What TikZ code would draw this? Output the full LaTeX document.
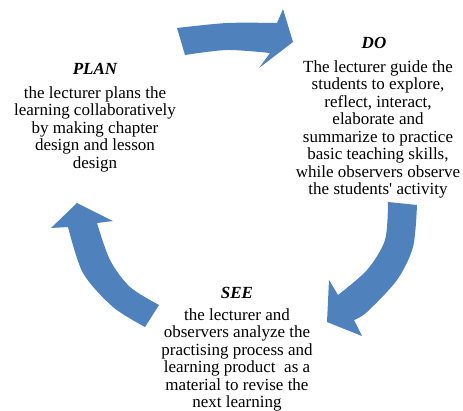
\documentclass[tikz,border=0pt]{standalone}
\usepackage{fontspec}
\setmainfont{Liberation Serif}
\definecolor{arrowblue}{RGB}{79,129,189}
\begin{document}
\begin{tikzpicture}[x=1pt,y=-1pt,
  cyclearrow/.style={fill=arrowblue},
  steptitle/.style={font=\fontsize{17}{17.5}\selectfont\bfseries\itshape, inner sep=0pt, anchor=base},
  stepbody/.style={font=\fontsize{17}{17.5}\selectfont, align=center, inner sep=0pt, anchor=base}]
\useasboundingbox (0,0) rectangle (463,410);
% top arrow (PLAN -> DO)
\fill[cyclearrow] (177,28) -- plot[smooth] coordinates {(177,28) (227,23) (277,23)}
  -- (283,9) -- (293,42) -- (259,68)
  -- plot[smooth] coordinates {(270,53) (227,50) (185,55)} -- cycle;
% right arrow (DO -> SEE)
\fill[cyclearrow] (388,202) -- plot[smooth] coordinates {(417,205) (413,247) (397,280) (367,312) (354,320)}
  -- (362,336) -- (327,322) -- (329,280)
  -- plot[smooth] coordinates {(338,295) (367,270) (385,240) (388,202)} -- cycle;
% left arrow (SEE -> PLAN)
\fill[cyclearrow] (159,305) -- plot[smooth] coordinates {(159,305) (130,287) (110,260) (97,223)}
  -- (113,221) -- (77,203) -- (51,228)
  -- plot[smooth] coordinates {(68,227) (83,273) (113,307) (145,327)} -- cycle;
% texts (base anchor = baseline of the last line)
\node[steptitle] (plantitle) at (95,74) {PLAN};
\node[stepbody] (plantext) at (95,168) {the lecturer plans the\\learning collaboratively\\by making chapter\\design and lesson\\design};
\node[steptitle] (dotitle) at (374,48) {DO};
\node[stepbody] (dotext) at (378,194.5) {The lecturer guide the\\students to explore,\\reflect, interact,\\elaborate and\\summarize to practice\\basic teaching skills,\\while observers observe\\the students\textquotesingle\ activity};
\node[steptitle] (seetitle) at (237,298) {SEE};
\node[stepbody] (seetext) at (237,407.5) {the lecturer and\\observers analyze the\\practising process and\\learning product\ \ as a\\material to revise the\\next learning};
\end{tikzpicture}
\end{document}
